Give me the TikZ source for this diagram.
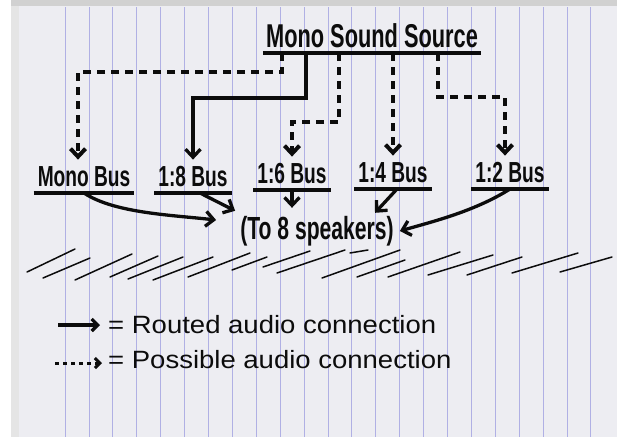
\documentclass[tikz,border=0pt]{standalone}
\usepackage{fontspec}
\usepackage{tikz}
\usetikzlibrary{arrows.meta}
\newfontfamily\hand[FakeStretch=0.66]{Liberation Sans}
\newfontfamily\handwide[FakeStretch=1.1]{Liberation Sans}
\definecolor{paper}{RGB}{237,237,242}
\definecolor{rule}{RGB}{176,176,228}
\definecolor{ink}{RGB}{12,12,12}

\begin{document}
\begin{tikzpicture}[x=1pt, y=-1pt,
    >={Straight Barb[length=8pt,width=15pt]},
    routed/.style={draw=ink, line width=3.3pt, ->},
    possible/.style={draw=ink, line width=4pt, dash pattern=on 8pt off 6pt, ->},
    title/.style={font=\hand\bfseries\fontsize{33}{33}\selectfont, text=ink, inner xsep=3pt, inner ysep=5pt, text height=23pt, text depth=0pt},
    bus/.style={font=\hand\bfseries\fontsize{29}{29}\selectfont, text=ink, inner xsep=4pt, inner ysep=6pt, text height=21pt, text depth=0pt},
    dest/.style={font=\hand\bfseries\fontsize{32}{32}\selectfont, text=ink, inner xsep=2pt, inner ysep=8pt, text height=23pt, text depth=7pt},
    key/.style={font=\handwide\fontsize{25}{25}\selectfont, text=ink, inner sep=0pt, text height=18pt, text depth=0pt}]
    \useasboundingbox (0,0) rectangle (617,437);

    % Paper
    \fill[white] (0,0) rectangle (617,437);
    \fill[paper] (11,0) rectangle (617,437);
    \fill[black!18] (11,0) rectangle (617,6);
    \fill[black!10] (11,6) rectangle (19,437);
    \foreach \k in {0,...,22}
        \draw[rule, line width=0.8pt] (65+23.9*\k,7) -- (65+23.9*\k,437);

    % Source and buses
    \node[title, anchor=south] (source) at (372,53) {Mono Sound Source};
    \node[bus, anchor=south] (monobus) at (84,193) {Mono Bus};
    \node[bus, anchor=south] (bus8) at (193,193) {1:8 Bus};
    \node[bus, anchor=south] (bus6) at (292,190) {1:6 Bus};
    \node[bus, anchor=south] (bus4) at (393,189) {1:4 Bus};
    \node[bus, anchor=south] (bus2) at (510,189) {1:2 Bus};
    \node[dest] (speakers) at (317,231) {(To 8 speakers)};

    \foreach \n in {source,monobus,bus8,bus6,bus4,bus2}
        \draw[ink, line width=3.5pt] (\n.south west) -- (\n.south east);

    % Source to buses
    \draw[possible] ([xshift=-90pt]source.south) -- ++(0,19) -| ([xshift=-6pt]monobus.north);
    \draw[routed] ([xshift=-66pt]source.south) -- ++(0,45) -| (bus8.north);
    \draw[possible] ([xshift=-33pt]source.south) -- ++(0,69) -| (bus6.north);
    \draw[possible] ([xshift=21pt]source.south) -- (bus4.north);
    \draw[possible] ([xshift=66pt]source.south) -- ++(0,44) -| ([xshift=-5pt]bus2.north);

    % Buses to speakers
    \draw[routed] (monobus.south) .. controls +(30,20) and +(-45,-5) .. ([xshift=-22pt,yshift=11pt]speakers.west);
    \draw[routed] ([xshift=7pt]bus8.south) -- ([xshift=-3pt,yshift=-3pt]speakers.north west);
    \draw[routed] (bus6.south) -- (bus6.south |- speakers.north);
    \draw[routed] ([xshift=4pt]bus4.south) -- ([xshift=58pt,yshift=-5pt]speakers.north);
    \draw[routed] (bus2.south) .. controls +(-35,22) and +(35,-10) .. ([xshift=4pt]speakers.east);

    % Hatching
    \foreach \a/\b/\c/\d in {27/272/75/249, 43/278/90/258, 75/280/132/254,
        110/277/158/256, 128/279/183/257, 153/280/213/257, 188/277/250/253,
        232/270/267/257, 263/267/310/251, 277/273/345/250, 350/253/368/250,
        322/278/400/250, 357/277/405/260, 388/277/460/252, 428/275/493/255,
        467/275/522/257, 512/273/578/253, 560/272/612/257}
        \draw[ink, line width=1.5pt, line cap=round] (\a,\b) -- (\c,\d);

    % Key
    \node[key, anchor=west] (routedtext) at (108,324) {= Routed audio connection};
    \node[key, anchor=west] (possibletext) at (108,359) {= Possible audio connection};
    \coordinate (keyrouted) at (58,325);
    \coordinate (keypossible) at (55,363);
    \draw[routed, >={Straight Barb[length=6pt,width=12pt]}] (keyrouted) -- ([xshift=-8pt,yshift=-1pt]routedtext.west);
    \draw[possible, line width=3pt, dash pattern=on 4pt off 4pt, >={Straight Barb[length=5pt,width=10pt]}] (keypossible) -- ([xshift=-6pt,yshift=-4pt]possibletext.west);
\end{tikzpicture}
\end{document}
